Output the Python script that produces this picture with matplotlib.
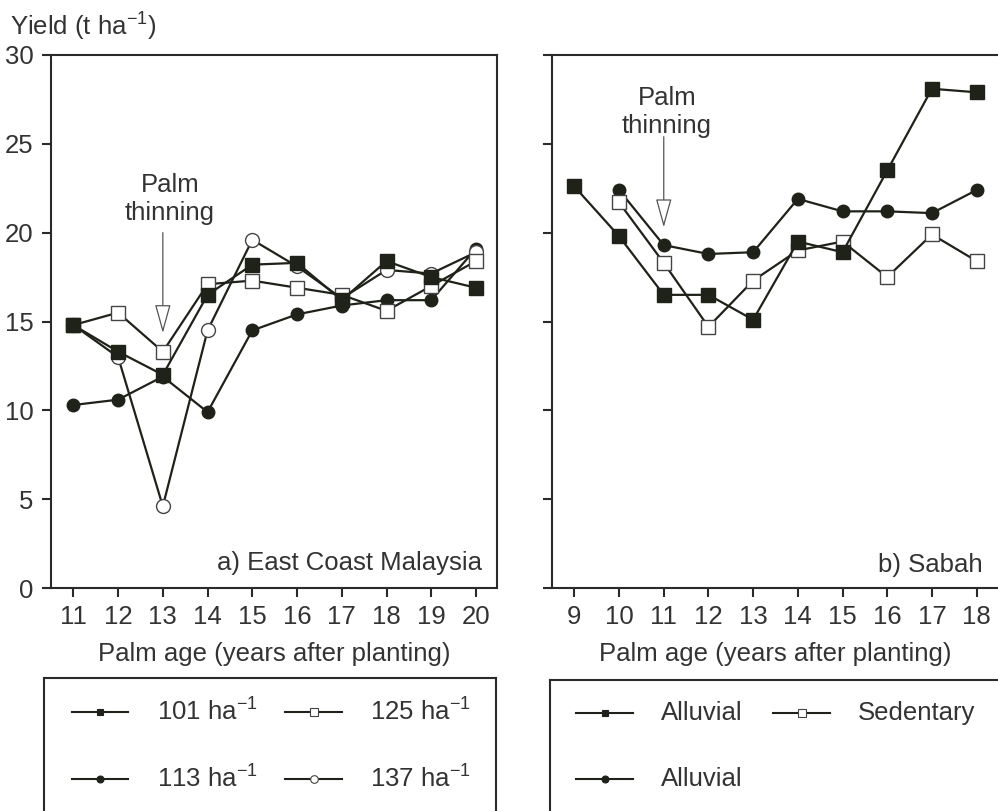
import matplotlib
matplotlib.use("Agg")
import matplotlib.pyplot as plt

plt.rcParams['font.family'] = ['Liberation Sans', 'DejaVu Sans']
plt.rcParams['mathtext.default'] = 'regular'

# datos
age_a = [11, 12, 13, 14, 15, 16, 17, 18, 19, 20]
d101 = [14.8, 13.3, 12.0, 16.5, 18.2, 18.3, 16.2, 18.4, 17.5, 16.9]
d113 = [10.3, 10.6, 11.9, 9.9, 14.5, 15.4, 15.9, 16.2, 16.2, 19.1]
d125 = [14.8, 15.5, 13.3, 17.1, 17.3, 16.9, 16.5, 15.6, 17.0, 18.4]
d137 = [14.8, 13.0, 4.6, 14.5, 19.6, 18.1, 16.3, 17.9, 17.7, 18.9]

age_b = [9, 10, 11, 12, 13, 14, 15, 16, 17, 18]
alluvial1 = [22.6, 19.8, 16.5, 16.5, 15.1, 19.5, 18.9, 23.5, 28.1, 27.9]
age_b2 = [10, 11, 12, 13, 14, 15, 16, 17, 18]
sedentary = [21.7, 18.3, 14.7, 17.3, 19.0, 19.5, 17.5, 19.9, 18.4]
alluvial2 = [22.4, 19.3, 18.8, 18.9, 21.9, 21.2, 21.2, 21.1, 22.4]

labels_a = ['101 ha$^{-1}$', '125 ha$^{-1}$', '113 ha$^{-1}$', '137 ha$^{-1}$']
labels_b = ['Alluvial', 'Sedentary', 'Alluvial']

ink = '#1e2218'
txt = '#333333'
fs = 18.5

fig = plt.figure(figsize=(9.98, 8.11), dpi=100)
ax1 = fig.add_axes([51/998, 223/811, 446/998, 533/811])
ax2 = fig.add_axes([552/998, 223/811, 447/998, 533/811])

styles = {
    'fsq': dict(marker='s', ms=10, mfc=ink, mec=ink),
    'osq': dict(marker='s', ms=10, mfc='white', mec='#444444', mew=1.0),
    'fci': dict(marker='o', ms=9, mfc=ink, mec=ink),
    'oci': dict(marker='o', ms=10, mfc='white', mec='#444444', mew=1.0),
}

def line(ax, x, y, st, z):
    ax.plot(x, y, color=ink, lw=1.6, zorder=z, **styles[st])

line(ax1, age_a, d113, 'fci', 3)
line(ax1, age_a, d137, 'oci', 4)
line(ax1, age_a, d125, 'osq', 5)
line(ax1, age_a, d101, 'fsq', 6)

line(ax2, age_b2, alluvial2, 'fci', 3)
line(ax2, age_b2, sedentary, 'osq', 4)
line(ax2, age_b, alluvial1, 'fsq', 5)

for ax in (ax1, ax2):
    ax.set_ylim(0, 30)
    ax.set_yticks(range(0, 31, 5))
    for s in ax.spines.values():
        s.set_linewidth(1.5)
        s.set_color('#2a2a2a')
    ax.tick_params(direction='out', length=6.5, width=1.5, color='#2a2a2a',
                   labelsize=fs, labelcolor=txt, pad=6)
    ax.set_xlabel('Palm age (years after planting)', fontsize=fs, color=txt, labelpad=9)

ax1.set_xlim(10.5, 20.47)
ax1.set_xticks(age_a)
ax2.set_xlim(8.5, 18.5)
ax2.set_xticks(age_b)
ax2.set_yticklabels([])
ax2.spines['right'].set_visible(False)

arrow = dict(arrowstyle='-|>,head_width=0.25,head_length=0.9', mutation_scale=20,
             fc='white', ec='#555555', lw=0.9, shrinkA=0, shrinkB=0)
ax1.annotate('', xy=(13, 14.35), xytext=(13, 20.0), arrowprops=arrow)
ax1.text(13.16, 21.9, 'Palm\nthinning', ha='center', va='center', fontsize=fs,
         color=txt, linespacing=1.2)
ax2.annotate('', xy=(11, 20.3), xytext=(11, 25.4), arrowprops=arrow)
ax2.text(11.07, 26.8, 'Palm\nthinning', ha='center', va='center', fontsize=fs,
         color=txt, linespacing=1.2)

ax1.text(0.966, 1.4/30, 'a) East Coast Malaysia', transform=ax1.transAxes,
         ha='right', va='center', fontsize=fs, color=txt)
ax2.text(18.13, 1.3, 'b) Sabah', ha='right', va='center', fontsize=fs, color=txt)

fig.text(10/998, 1 - 27/811, 'Yield (t ha$^{-1}$)', ha='left', va='center',
         fontsize=fs, color=txt)

# leyendas (cajas dibujadas a mano, coordenadas en pixeles)
lgA = fig.add_axes([44/998, -11/811, 452/998, 144/811])
lgB = fig.add_axes([550/998, -11/811, 460/998, 142/811])
for lg, xr, top in ((lgA, (44, 496), 678), (lgB, (550, 1010), 680)):
    lg.set_xlim(*xr)
    lg.set_ylim(822, top)
    lg.set_xticks([])
    lg.set_yticks([])
    for s in lg.spines.values():
        s.set_linewidth(1.5)
        s.set_color('#2a2a2a')

def entry(lg, x0, x1, xt, yy, st, lab):
    kw = dict(styles[st])
    kw['ms'] = 5 if st[0] == 'f' else 5.5
    kw['mew'] = 0.8
    lg.plot([x0, x1], [yy, yy], color=ink, lw=1.5)
    lg.plot([(x0 + x1) / 2], [yy], linestyle='none', **kw)
    lg.text(xt, yy, lab, ha='left', va='center', fontsize=fs, color=txt)

entry(lgA, 72, 128, 157, 712, 'fsq', labels_a[0])
entry(lgA, 285, 342, 370, 712, 'osq', labels_a[1])
entry(lgA, 72, 128, 157, 779, 'fci', labels_a[2])
entry(lgA, 285, 342, 370, 779, 'oci', labels_a[3])

entry(lgB, 576, 633, 661, 713, 'fsq', labels_b[0])
entry(lgB, 773, 830, 858, 713, 'osq', labels_b[1])
entry(lgB, 576, 633, 661, 779, 'fci', labels_b[2])

fig.savefig('out.png', dpi=100)
